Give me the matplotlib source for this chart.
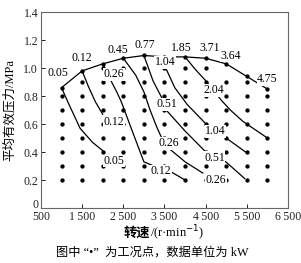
import numpy as np
from matplotlib import pyplot as plt

plt.rcParams['font.family'] = ['Liberation Serif', 'DejaVu Serif', 'Noto Sans CJK SC']
plt.rcParams['font.size'] = 8

# working points: speed columns, rows of pme below the full load line
speeds = [1000, 1500, 2000, 2500, 3000, 3500, 4000, 4500, 5000, 5500, 6000]
full_load = [0.86, 0.98, 1.03, 1.07, 1.09, 1.08, 1.08, 1.07, 1.03, 0.94, 0.85]
top_row = [0.8, 0.9, 1.0, 1.0, 1.0, 1.0, 1.0, 1.0, 0.9, 0.9, 0.8]

# lines (speed, pme)
line_005 = [(1000, 0.86), (1150, 0.76), (1450, 0.57), (1750, 0.47), (2000, 0.41)]
line_012 = [(1500, 0.98), (1650, 0.87), (1820, 0.76), (2000, 0.67)]
line_a = [(2000, 1.03), (2200, 0.91), (2340, 0.83), (2450, 0.76), (2730, 0.54),
          (3000, 0.33), (3410, 0.28), (3650, 0.26), (4000, 0.20)]
line_026 = [(2500, 1.07), (2800, 0.95), (3000, 0.83), (3150, 0.70), (3310, 0.58),
            (3510, 0.45), (4000, 0.33), (4430, 0.25)]
line_051 = [(3000, 1.09), (3220, 0.91), (3430, 0.79), (3510, 0.71), (4000, 0.55),
            (4470, 0.41), (4715, 0.36), (4990, 0.33), (5450, 0.21)]
line_104 = [(3500, 1.07), (3530, 1.0), (3750, 0.86), (4050, 0.74), (4510, 0.60),
            (4740, 0.55), (4950, 0.51), (5470, 0.40)]
line_204 = [(4000, 1.08), (4250, 0.99), (4500, 0.91), (4690, 0.84), (4880, 0.77),
            (5100, 0.70), (5400, 0.62), (5700, 0.56), (6000, 0.50)]
curves = [line_005, line_012, line_a, line_026, line_051, line_104, line_204]

# labels (text, speed, pme)
labels = [("0.05", 910, 0.964), ("0.12", 1495, 1.069), ("0.45", 2360, 1.129),
          ("0.77", 3024, 1.164), ("1.85", 3910, 1.146), ("3.71", 4594, 1.146),
          ("3.64", 5118, 1.087), ("4.75", 6002, 0.92), ("0.26", 2275, 0.957),
          ("1.04", 3507, 1.043), ("0.51", 3556, 0.743), ("2.04", 4690, 0.843),
          ("0.12", 2275, 0.616), ("1.04", 4740, 0.55), ("0.05", 2275, 0.336),
          ("0.26", 3604, 0.462), ("0.12", 3410, 0.264), ("0.51", 4715, 0.36),
          ("0.26", 4756, 0.20)]

xticks = [500, 1500, 2500, 3500, 4500, 5500, 6500]
yticks = [0, 0.2, 0.4, 0.6, 0.8, 1.0, 1.2, 1.4]

fig = plt.figure(figsize=(3.01, 2.63), dpi=100)
ax = fig.add_axes([0.136, 0.209, 0.821, 0.745])

px, py = [], []
for n, top, fl in zip(speeds, top_row, full_load):
    for p in np.arange(0.2, top + 0.01, 0.1):
        px.append(n)
        py.append(p)
    px.append(n)
    py.append(fl)
ax.plot(px, py, 'o', color='black', ms=3.1, mew=0, zorder=3)

ax.plot(speeds, full_load, color='black', lw=0.9, zorder=2)
for c in curves:
    ax.plot([p[0] for p in c], [p[1] for p in c], color='black', lw=0.9, zorder=2)

for t, x, y in labels:
    ax.text(x, y, t, ha='center', va='center', fontsize=8.5, zorder=4,
            bbox=dict(facecolor='white', edgecolor='none', pad=0.3))

ax.set_xlim(500, 6500)
ax.set_ylim(0, 1.4)
ax.set_xticks(xticks)
ax.set_xticklabels([f"{v // 1000}\u2009{v % 1000:03d}" if v >= 1000 else str(v) for v in xticks])
ax.set_yticks(yticks)
ax.set_yticklabels(["0" if v == 0 else f"{v:.1f}" for v in yticks])
ax.get_yticklabels()[0].set_va('baseline')
ax.tick_params(direction='in', length=3, width=0.7, labelsize=8.5, pad=2, colors='#222')
for s in ax.spines.values():
    s.set_color('#666')
    s.set_linewidth(0.8)

ax.set_ylabel("平均有效压力/MPa", fontsize=9)
ax.yaxis.set_label_coords(-0.1, 0.5)
fig.text(0.5, 0.113, "转速", ha='right', va='center', fontsize=9.5, fontweight='bold')
fig.text(0.5, 0.113, "/(r·min$^{-1}$)", ha='left', va='center', fontsize=9)
fig.text(0.505, 0.04, "图中 “•”  为工况点，数据单位为 kW", ha='center', va='center', fontsize=8.8)

fig.savefig("out.png", dpi=100)
